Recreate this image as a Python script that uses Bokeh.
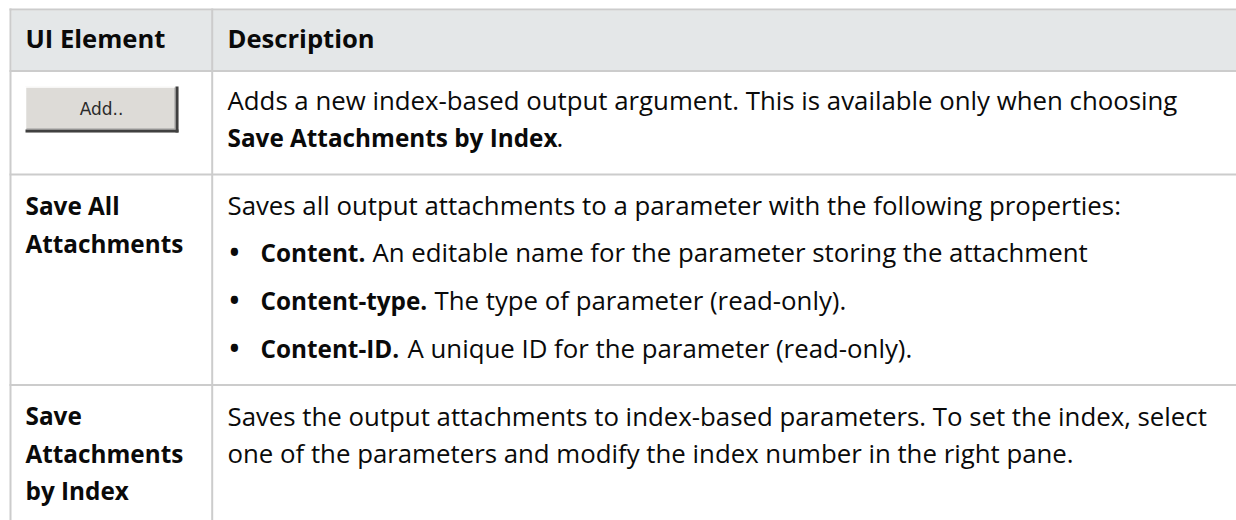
from bokeh.plotting import figure
from bokeh.models import Range1d
from bokeh.embed import file_html
from bokeh.resources import INLINE
from bokeh.core.properties import value

# ---------------- content (data) ----------------
headers = ["UI Element", "Description"]
button_label = "Add.."
element_labels = [
    [],                                   # row 1 shows a button instead of a label
    ["Save All", "Attachments"],
    ["Save", "Attachments", "by Index"],
]
row1_lines = ["Adds a new index-based output argument. This is available only when choosing"]
row1_bold = "Save Attachments by Index"
row1_tail = "."
row2_intro = "Saves all output attachments to a parameter with the following properties:"
bullet_terms = ["Content.", "Content-type.", "Content-ID."]
bullet_texts = [
    "An editable name for the parameter storing the attachment",
    "The type of parameter (read-only).",
    "A unique ID for the parameter (read-only).",
]
row3_lines = [
    "Saves the output attachments to index-based parameters. To set the index, select",
    "one of the parameters and modify the index number in the right pane.",
]

# ---------------- layout ----------------
W, H = 1236, 520
FONT = value("Open Sans")
REG = "25.8px"
BOLD = "24.3px"
HEAD = "25.6px"
INK = "#0a0a0a"
GRID = "#cccccc"
HEAD_BG = "#e4e7e8"

left_x, col_x = 10, 211.7
row_edges = [9, 70.5, 174, 384.5]
text_x_left, text_x_desc = 25, 227
bullet_x, term_x = 229, 260
bullet_tail_x = [372, 434, 407]
row1_tail_x = 556

p = figure(width=W, height=H, x_range=Range1d(0, W), y_range=Range1d(H, 0),
           output_backend="svg", toolbar_location=None, min_border=0,
           x_axis_location=None, y_axis_location=None, outline_line_color=None)
p.grid.visible = False
p.background_fill_color = "white"
p.border_fill_color = "white"

# header background
p.quad(left=[left_x + 1], right=[W], top=[row_edges[0] + 1], bottom=[row_edges[1]],
       fill_color=HEAD_BG, line_color=None)

# grid lines
p.segment(x0=[left_x - 1] * len(row_edges), x1=[W] * len(row_edges),
          y0=row_edges, y1=row_edges, line_color=GRID, line_width=2)
p.segment(x0=[left_x, col_x], x1=[left_x, col_x], y0=[8, 8], y1=[H, H],
          line_color=GRID, line_width=2)


def txt(xs, ys, texts, bold=False, size=None, color=INK, font=FONT, align="left"):
    p.text(x=xs, y=ys, text=texts, text_font=font,
           text_font_size=size or (BOLD if bold else REG),
           text_font_style="bold" if bold else "normal",
           text_color=color, text_baseline="middle", text_align=align)


# header
txt([text_x_left, text_x_desc], [38, 38], headers, bold=True, size=HEAD)

# button (row 1)
bx0, bx1, by0, by1 = 25, 178, 86, 132
p.quad(left=[bx0], right=[bx1], top=[by0], bottom=[by1], fill_color="#dddbd7", line_color=None)
p.segment(x0=[bx0, bx0], x1=[bx1, bx0], y0=[by0 + 0.5, by0], y1=[by0 + 0.5, by1],
          line_color="#ffffff", line_width=1.5)
p.segment(x0=[bx0, bx1 - 1.5], x1=[bx1, bx1 - 1.5], y0=[by1 - 1.5, by0], y1=[by1 - 1.5, by1],
          line_color="#404040", line_width=3)
p.segment(x0=[bx0 + 1, bx1 - 3.5], x1=[bx1 - 3, bx1 - 3.5], y0=[by1 - 3.5, by0 + 1], y1=[by1 - 3.5, by1 - 3],
          line_color="#9a9a9a", line_width=1)
txt([(bx0 + bx1) / 2 - 0.5], [108], [button_label], size="17px", color="#2a2a2a",
    font=value("DejaVu Sans"), align="center")

# row 1 description
c1, step = 99, 38
txt([text_x_desc] * len(row1_lines), [c1 + i * step for i in range(len(row1_lines))], row1_lines)
txt([text_x_desc], [c1 + step], [row1_bold], bold=True)
txt([row1_tail_x], [c1 + step], [row1_tail])

# row 2
c2 = 204.5
lab2 = element_labels[1]
txt([text_x_left] * len(lab2), [c2 + i * step for i in range(len(lab2))], lab2, bold=True)
txt([text_x_desc], [c2], [row2_intro])
bullet_step = 48
bys = [c2 + 47 + i * bullet_step for i in range(len(bullet_terms))]
txt([bullet_x] * len(bullet_terms), bys, ["\u2022"] * len(bullet_terms), bold=True, size="26px")
txt([term_x] * len(bullet_terms), bys, bullet_terms, bold=True)
txt(bullet_tail_x, bys, bullet_texts)

# row 3
c3 = 415
lab3 = element_labels[2]
txt([text_x_left] * len(lab3), [c3 + i * 37.5 for i in range(len(lab3))], lab3, bold=True)
txt([text_x_desc] * len(row3_lines), [c3 + i * 37 for i in range(len(row3_lines))], row3_lines)

open("out.html", "w").write(file_html(p, INLINE))
